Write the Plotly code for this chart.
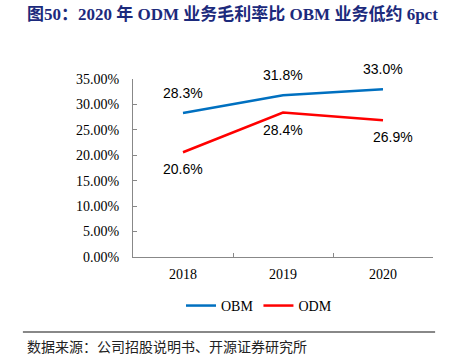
import plotly.graph_objects as go

years = ["2018", "2019", "2020"]
obm = [0.283, 0.318, 0.330]
odm = [0.206, 0.284, 0.269]
obm_labels = ["28.3%", "31.8%", "33.0%"]
odm_labels = ["20.6%", "28.4%", "26.9%"]

title = "图50：2020 年 ODM 业务毛利率比 OBM 业务低约 6pct"
source = "数据来源：公司招股说明书、开源证券研究所"

BLUE = "#0070C0"
RED = "#FF0000"
SERIF = "Liberation Serif, Times New Roman, Noto Sans CJK SC, serif"
SANS = "Liberation Sans, Arial, sans-serif"

fig = go.Figure()
fig.add_trace(go.Scatter(x=years, y=obm, mode="lines", name="OBM",
                         line=dict(color=BLUE, width=2.5)))
fig.add_trace(go.Scatter(x=years, y=odm, mode="lines", name="ODM",
                         line=dict(color=RED, width=2.5)))

annotations = []
for i, (y, t) in enumerate(zip(obm, obm_labels)):
    annotations.append(dict(x=i, y=y, text=t, xref="x", yref="y", showarrow=False,
                            yshift=20, font=dict(family=SANS, size=14, color="#000")))
for i, (y, t) in enumerate(zip(odm, odm_labels)):
    annotations.append(dict(x=i, y=y, text=t, xref="x", yref="y", showarrow=False,
                            yshift=-17, xshift=10 if i == 2 else 0,
                            font=dict(family=SANS, size=14, color="#000")))
annotations.append(dict(x=-0.36, y=1.365, xref="paper", yref="paper", yanchor="middle",
                        xanchor="left", showarrow=False, text="<b>" + title + "</b>",
                        font=dict(family=SERIF, size=17, color="#1C2A7C")))
annotations.append(dict(x=-0.36, y=-0.5, xref="paper", yref="paper", xanchor="left",
                        yanchor="middle", showarrow=False, text=source,
                        font=dict(family="Noto Sans CJK SC", size=14, color="#222")))

fig.update_layout(
    width=452, height=362,
    margin=dict(l=133, r=19, t=79, b=105),
    paper_bgcolor="white", plot_bgcolor="white",
    showlegend=True,
    legend=dict(orientation="h", x=0.42, xanchor="center", y=-0.275, yanchor="middle",
                font=dict(family=SERIF, size=14, color="#000"), itemwidth=30,
                tracegroupgap=0),
    annotations=annotations,
    shapes=[dict(type="line", xref="paper", yref="paper", x0=-0.367, x1=1.007,
                 y0=-0.421, y1=-0.421, line=dict(color="#888", width=2))],
    xaxis=dict(type="category", tickson="boundaries", ticks="inside", ticklen=4,
               tickcolor="#888", showline=True, linecolor="#888", linewidth=1,
               showgrid=False, tickfont=dict(family=SERIF, size=14, color="#000"),
               ticklabelstandoff=4, range=[-0.5, 2.5]),
    yaxis=dict(range=[0, 0.35], dtick=0.05, tickformat=".2%", ticks="inside",
               ticklen=4, tickcolor="#888", showline=True, linecolor="#888",
               linewidth=1, showgrid=False, zeroline=False, ticklabelstandoff=10,
               tickfont=dict(family=SERIF, size=14, color="#000")),
)
fig.write_html("out.html", post_script="document.body.style.margin='0';",
               config={"displayModeBar": False})
